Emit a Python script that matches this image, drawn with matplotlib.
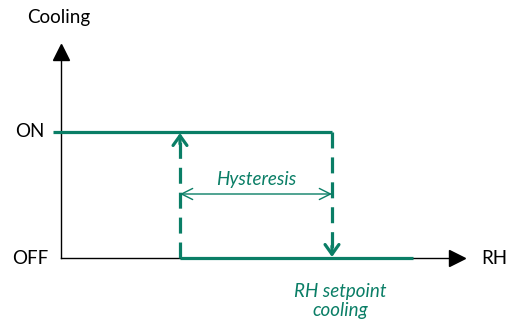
import matplotlib.pyplot as plt

# Schematic values in pixel-like units (x to the right, y downwards).
green = "#0a7e66"
axis_origin = (61, 258)
y_axis_top = 44
x_axis_end = 465
levels = {"ON": 132, "OFF": 258}
on_line_x = [53, 332]
off_line_x = [180, 413]
switch_on_x = 180      # RH where cooling switches on (going down)
setpoint_x = 332       # RH setpoint cooling
hyst_y = 194

plt.rcParams["font.family"] = ["Lato", "DejaVu Sans"]
fs = 13.5

fig = plt.figure(figsize=(5.2, 3.22), dpi=100)
ax = fig.add_axes([0, 0, 1, 1])
ax.set_xlim(0, 520)
ax.set_ylim(322, 0)
ax.axis("off")

# Axes with filled arrow heads.
ox, oy = axis_origin
ax.plot([ox, ox], [oy, y_axis_top + 12], color="black", lw=1, zorder=2)
ax.plot([ox], [y_axis_top + 8], marker="^", ms=11, color="black", zorder=2)
ax.plot([ox, x_axis_end - 12], [oy, oy], color="black", lw=1, zorder=2)
ax.plot([x_axis_end - 8], [oy], marker=">", ms=11, color="black", zorder=2)

# ON / OFF state lines.
ax.plot(on_line_x, [levels["ON"]] * 2, color=green, lw=2.3, zorder=3,
        solid_capstyle="butt")
ax.plot(off_line_x, [levels["OFF"]] * 2, color=green, lw=2.3, zorder=3,
        solid_capstyle="butt")

# Dashed transitions.
dash = (0, (5, 2.8))
ax.plot([switch_on_x, switch_on_x], [levels["OFF"], levels["ON"] + 4],
        color=green, lw=2.3, ls=dash, zorder=3)
ax.annotate("", xy=(switch_on_x, levels["ON"] + 1),
            xytext=(switch_on_x, levels["ON"] + 12),
            arrowprops=dict(arrowstyle="->,head_length=0.7,head_width=0.5",
                            color=green, lw=2.3, shrinkA=0, shrinkB=0))
ax.plot([setpoint_x, setpoint_x], [levels["ON"], levels["OFF"] - 4],
        color=green, lw=2.3, ls=dash, zorder=3)
ax.annotate("", xy=(setpoint_x, levels["OFF"] - 1),
            xytext=(setpoint_x, levels["OFF"] - 12),
            arrowprops=dict(arrowstyle="->,head_length=0.7,head_width=0.5",
                            color=green, lw=2.3, shrinkA=0, shrinkB=0))

# Hysteresis span.
ax.annotate("", xy=(switch_on_x, hyst_y), xytext=(setpoint_x, hyst_y),
            arrowprops=dict(arrowstyle="<->,head_length=0.8,head_width=0.4",
                            color=green, lw=1, shrinkA=0, shrinkB=0))
ax.text((switch_on_x + setpoint_x) / 2, hyst_y - 15, "Hysteresis", color=green,
        fontsize=fs, style="italic", ha="center", va="center")

# Labels.
ax.text(59, 17, "Cooling", fontsize=fs, ha="center", va="center")
ax.text(30, levels["ON"] - 1, "ON", fontsize=fs, ha="center", va="center")
ax.text(30, levels["OFF"], "OFF", fontsize=fs, ha="center", va="center")
ax.text(494, levels["OFF"], "RH", fontsize=fs, ha="center", va="center")
ax.text(setpoint_x + 8, 301, "RH setpoint\ncooling", color=green, fontsize=fs,
        style="italic", ha="center", va="center", linespacing=1.15)

fig.savefig("out.png", dpi=100)
